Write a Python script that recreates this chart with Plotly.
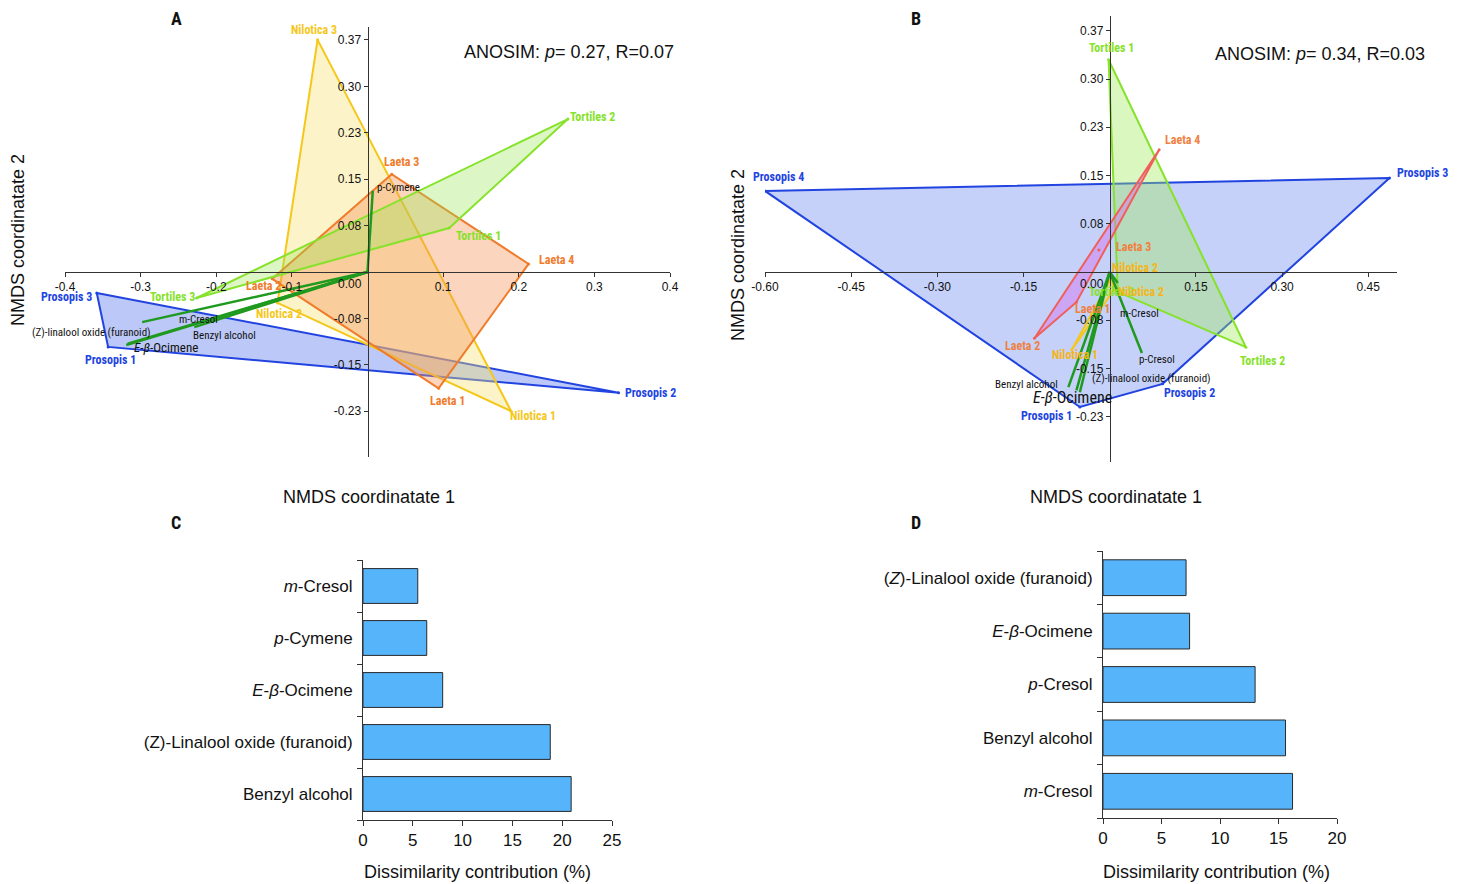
import plotly.graph_objects as go

W, H = 1463, 884

# ---------------- DATA ----------------
# Panel A (NMDS, ANOSIM p=0.27)
a_names = ["Prosopis 3", "Prosopis 1", "Prosopis 2",
           "Nilotica 3", "Nilotica 1", "Nilotica 2",
           "Laeta 3", "Laeta 4", "Laeta 1", "Laeta 2",
           "Tortiles 2", "Tortiles 1", "Tortiles 3"]
a_group = ["Prosopis"] * 3 + ["Nilotica"] * 3 + ["Laeta"] * 4 + ["Tortiles"] * 3
a_x = [-0.358, -0.343, 0.332, -0.066, 0.190, -0.119, 0.032, 0.213, 0.094, -0.126, 0.265, 0.108, -0.226]
a_y = [-0.034, -0.121, -0.195, 0.375, -0.225, -0.050, 0.158, 0.013, -0.188, -0.011, 0.247, 0.071, -0.042]

a_vec_names = ["p-Cymene", "m-Cresol", "Benzyl alcohol", "(Z)-linalool oxide (furanoid)", "<i>E</i>-<i>β</i>-Ocimene"]
a_vec_x = [0.007, -0.298, -0.229, -0.317, -0.319]
a_vec_y = [0.131, -0.081, -0.089, -0.116, -0.118]

# Panel B (NMDS, ANOSIM p=0.34)
b_names = ["Prosopis 4", "Prosopis 3", "Prosopis 2", "Prosopis 1",
           "Tortiles 1", "Tortiles 2", "Tortiles 3",
           "Laeta 4", "Laeta 1", "Laeta 2", "Laeta 3",
           "Nilotica 1", "Nilotica 2", "Nilotica 2"]
b_group = ["Prosopis"] * 4 + ["Tortiles"] * 3 + ["Laeta"] * 4 + ["Nilotica"] * 3
b_x = [-0.600, 0.487, 0.092, -0.052, -0.002, 0.237, 0.014, 0.086, -0.058, -0.131, -0.019, -0.066, 0.003, 0.007]
b_y = [0.126, 0.146, -0.174, -0.210, 0.330, -0.117, -0.031, 0.190, -0.047, -0.103, 0.034, -0.121, -0.009, -0.028]

b_vec_names = ["m-Cresol", "p-Cresol", "Benzyl alcohol", "<i>E</i>-<i>β</i>-Ocimene", "(Z)-linalool oxide (furanoid)"]
b_vec_x = [0.014, 0.056, -0.072, -0.058, -0.052]
b_vec_y = [-0.017, -0.126, -0.179, -0.184, -0.187]

# Panel C / D (SIMPER contributions)
c_cats = ["Benzyl alcohol", "(Z)-Linalool oxide (furanoid)", "E-β-Ocimene", "p-Cymene", "m-Cresol"]
c_text = ["Benzyl alcohol", "(Z)-Linalool oxide (furanoid)", "<i>E</i>-<i>β</i>-Ocimene", "<i>p</i>-Cymene", "<i>m</i>-Cresol"]
c_vals = [20.9, 18.8, 8.0, 6.4, 5.5]

d_cats = ["m-Cresol", "Benzyl alcohol", "p-Cresol", "E-β-Ocimene", "(Z)-Linalool oxide (furanoid)"]
d_text = ["<i>m</i>-Cresol", "Benzyl alcohol", "<i>p</i>-Cresol", "<i>E</i>-<i>β</i>-Ocimene", "(<i>Z</i>)-Linalool oxide (furanoid)"]
d_vals = [16.2, 15.6, 13.0, 7.4, 7.1]

nmds_ticks_y = [0.375, 0.3, 0.225, 0.15, 0.075, -0.075, -0.15, -0.225, -0.3]
nmds_ticktext_y = ["0.37", "0.30", "0.23", "0.15", "0.08", "-0.08", "-0.15", "-0.23", "-0.30"]
a_ticks_x = [-0.4, -0.3, -0.2, -0.1, 0.1, 0.2, 0.3, 0.4]
a_ticktext_x = ["-0.4", "-0.3", "-0.2", "-0.1", "0.1", "0.2", "0.3", "0.4"]
b_ticks_x = [-0.6, -0.45, -0.3, -0.15, 0.15, 0.3, 0.45]
b_ticktext_x = ["-0.60", "-0.45", "-0.30", "-0.15", "0.15", "0.30", "0.45"]

# ---------------- STYLE ----------------
SANS = "Liberation Sans, Arial, Helvetica, sans-serif"
NARROW = "Liberation Sans Narrow, Arial Narrow, Roboto Condensed, Liberation Sans, sans-serif"
BLUE_BAR = "#55b4fa"

a_style = {
    "Prosopis": dict(line="#2144e0", fill="rgba(95,125,235,0.42)", text="#2144e0"),
    "Nilotica": dict(line="#f5c71a", fill="rgba(248,225,110,0.38)", text="#f5c71a"),
    "Laeta": dict(line="#ef7b2b", fill="rgba(245,150,90,0.40)", text="#ef7b2b"),
    "Tortiles": dict(line="#86e22a", fill="rgba(150,230,80,0.33)", text="#86e22a"),
}
b_style = {
    "Prosopis": dict(line="#2144e0", fill="rgba(110,140,240,0.40)", text="#2144e0"),
    "Tortiles": dict(line="#86e22a", fill="rgba(160,235,90,0.38)", text="#86e22a"),
    "Laeta": dict(line="#f0605a", fill="rgba(215,110,240,0.45)", text="#f08040"),
    "Nilotica": dict(line="#f5c71a", fill="rgba(248,225,110,0.45)", text="#f5b51a"),
}
VEC = "#1f9a1f"

# label offsets in pixels (styling)
a_lbl_shift = {
    "Prosopis 3": (-30, -4), "Prosopis 1": (2, -13), "Prosopis 2": (32, 0),
    "Nilotica 3": (-4, 10), "Nilotica 1": (22, -5), "Nilotica 2": (1, -11),
    "Laeta 3": (10, 12), "Laeta 4": (28, 4), "Laeta 1": (9, -13), "Laeta 2": (-9, -7),
    "Tortiles 2": (25, 2), "Tortiles 1": (29, -8), "Tortiles 3": (-24, 1),
}
b_lbl_shift = [(13, 14), (33, 5), (27, -9), (-33, -9),
               (3, 12), (17, -14), (-6, 0),
               (23, 10), (16, -7), (-12, -8), (35, 3),
               (3, -5), (24, 10), (27, -2)]
a_vec_shift = [(2, 3, "left"), (56, 3, "center"), (30, -8, "center"), (-36, 11, "center"), (40, -2, "center")]
b_vec_shift = [(0, -31, "left"), (15, -7, "center"), (-42, 3, "center"), (-4, -7, "center"), (72, 14, "center")]


def px(xp):
    return xp / W


def py(yp):
    return 1 - yp / H


def hull(pts):
    pts = sorted(set(pts))
    if len(pts) <= 2:
        return pts

    def cross(o, a, b):
        return (a[0] - o[0]) * (b[1] - o[1]) - (a[1] - o[1]) * (b[0] - o[0])
    lower, upper = [], []
    for p in pts:
        while len(lower) >= 2 and cross(lower[-2], lower[-1], p) <= 0:
            lower.pop()
        lower.append(p)
    for p in reversed(pts):
        while len(upper) >= 2 and cross(upper[-2], upper[-1], p) <= 0:
            upper.pop()
        upper.append(p)
    return lower[:-1] + upper[:-1]


fig = go.Figure()
ann = []


def nmds_panel(xs, ys, groups, names, styles, order, vnames, vx, vy, xa, ya, lbl_shifts, vshifts, vfont):
    for g in order:
        pts = [(x, y) for x, y, gg in zip(xs, ys, groups) if gg == g]
        h = hull(pts)
        hx = [p[0] for p in h] + [h[0][0]]
        hy = [p[1] for p in h] + [h[0][1]]
        st = styles[g]
        fig.add_trace(go.Scatter(x=hx, y=hy, mode="lines", fill="toself", fillcolor=st["fill"],
                                 line=dict(color=st["line"], width=2), xaxis=xa, yaxis=ya,
                                 showlegend=False, hoverinfo="skip"))
        gx = [x for x, gg in zip(xs, groups) if gg == g]
        gy = [y for y, gg in zip(ys, groups) if gg == g]
        fig.add_trace(go.Scatter(x=gx, y=gy, mode="markers", marker=dict(size=3, color=st["line"]),
                                 xaxis=xa, yaxis=ya, showlegend=False))
    for n, x, y in zip(vnames, vx, vy):
        fig.add_trace(go.Scatter(x=[0, x], y=[0, y], mode="lines", line=dict(color=VEC, width=2.5),
                                 xaxis=xa, yaxis=ya, showlegend=False, hoverinfo="skip"))
    for i, (n, x, y, g) in enumerate(zip(names, xs, ys, groups)):
        sh = lbl_shifts[n] if isinstance(lbl_shifts, dict) else lbl_shifts[i]
        ann.append(dict(x=x, y=y, xref=xa, yref=ya, text=n, showarrow=False,
                        xshift=sh[0], yshift=sh[1],
                        font=dict(family=NARROW, size=12, color=styles[g]["text"], weight="bold")))
    for (n, x, y), sh in zip(zip(vnames, vx, vy), vshifts):
        size = vfont if "Ocimene" in n else 11
        ann.append(dict(x=x, y=y, xref=xa, yref=ya, text=n, showarrow=False,
                        xshift=sh[0], yshift=sh[1], xanchor=sh[2],
                        font=dict(family=NARROW, size=size, color="#111")))


nmds_panel(a_x, a_y, a_group, a_names, a_style, ["Prosopis", "Nilotica", "Laeta", "Tortiles"],
           a_vec_names, a_vec_x, a_vec_y, "x", "y", a_lbl_shift, a_vec_shift, 13)
nmds_panel(b_x, b_y, b_group, b_names, b_style, ["Prosopis", "Tortiles", "Laeta", "Nilotica"],
           b_vec_names, b_vec_x, b_vec_y, "x2", "y2", b_lbl_shift, b_vec_shift, 16)

fig.add_trace(go.Bar(x=c_vals, y=c_cats, orientation="h", width=0.67,
                     marker=dict(color=BLUE_BAR, line=dict(color="#2a2a2a", width=1)),
                     xaxis="x3", yaxis="y3", showlegend=False))
fig.add_trace(go.Bar(x=d_vals, y=d_cats, orientation="h", width=0.67,
                     marker=dict(color=BLUE_BAR, line=dict(color="#2a2a2a", width=1)),
                     xaxis="x4", yaxis="y4", showlegend=False))

# ---------------- AXES ----------------
a_xr, a_yr = [-0.4, 0.4], [-0.2989, 0.3958]
b_xr, b_yr = [-0.6, 0.5], [-0.2955, 0.398]
a_xd, a_yd = [px(65), px(670)], [py(457), py(27)]
b_xd, b_yd = [px(765), px(1397)], [py(462), py(16)]


def zero_pos(dom, rng):
    return dom[0] + (0 - rng[0]) / (rng[1] - rng[0]) * (dom[1] - dom[0])


axfont = dict(family=SANS, size=12, color="#111")
common = dict(showgrid=False, zeroline=False, showline=True, linecolor="#333", linewidth=1,
              ticks="outside", ticklen=4, tickcolor="#333", tickfont=axfont, fixedrange=True,
              automargin=False)

fig.update_layout(
    xaxis=dict(domain=a_xd, range=a_xr, anchor="free", position=zero_pos(a_yd, a_yr),
               tickmode="array", tickvals=a_ticks_x, ticktext=a_ticktext_x, **common),
    yaxis=dict(domain=a_yd, range=a_yr, anchor="free", position=zero_pos(a_xd, a_xr),
               tickmode="array", tickvals=nmds_ticks_y, ticktext=nmds_ticktext_y, **common),
    xaxis2=dict(domain=b_xd, range=b_xr, anchor="free", position=zero_pos(b_yd, b_yr),
                tickmode="array", tickvals=b_ticks_x, ticktext=b_ticktext_x, **common),
    yaxis2=dict(domain=b_yd, range=b_yr, anchor="free", position=zero_pos(b_xd, b_xr),
                tickmode="array", tickvals=nmds_ticks_y, ticktext=nmds_ticktext_y, **common),
)

barfont = dict(family=SANS, size=17, color="#111")
barcommon = dict(showgrid=False, zeroline=False, showline=True, linecolor="#333", linewidth=1,
                 ticks="outside", ticklen=5, tickcolor="#333", tickfont=barfont, fixedrange=True,
                 automargin=False)
fig.update_layout(
    xaxis3=dict(domain=[px(363), px(612)], range=[0, 25], dtick=5, anchor="y3", **barcommon),
    yaxis3=dict(domain=[py(820), py(560)], anchor="x3", type="category", categoryorder="array",
                categoryarray=c_cats, tickmode="array", tickvals=c_cats, ticktext=c_text,
                tickson="boundaries", range=[-0.5, 4.5], ticklabelstandoff=6, **barcommon),
    xaxis4=dict(domain=[px(1103), px(1337)], range=[0, 20], dtick=5, anchor="y4", **barcommon),
    yaxis4=dict(domain=[py(818), py(551)], anchor="x4", type="category", categoryorder="array",
                categoryarray=d_cats, tickmode="array", tickvals=d_cats, ticktext=d_text,
                tickson="boundaries", range=[-0.5, 4.5], ticklabelstandoff=6, **barcommon),
)

# zero labels for NMDS y axes
ann.append(dict(x=0, y=0, xref="x", yref="y", text="0.00", showarrow=False, xanchor="right",
                yanchor="top", xshift=-4, yshift=-3, font=axfont))
ann.append(dict(x=0, y=0, xref="x2", yref="y2", text="0.00", showarrow=False, xanchor="right",
                yanchor="top", xshift=-4, yshift=-3, font=axfont))

titlefont = dict(family=SANS, size=18, color="#111")
for txt, x, y, ang in [("NMDS coordinatate 1", 369, 497, 0), ("NMDS coordinatate 1", 1116, 497, 0),
                       ("NMDS coordinatate 2", 18, 240, -90), ("NMDS coordinatate 2", 738, 255, -90),
                       ("Dissimilarity contribution (%)", 477, 872, 0),
                       ("Dissimilarity contribution (%)", 1216, 872, 0),
                       ("ANOSIM: <i>p</i>= 0.27, R=0.07", 569, 52, 0),
                       ("ANOSIM: <i>p</i>= 0.34, R=0.03", 1320, 54, 0)]:
    ann.append(dict(x=px(x), y=py(y), xref="paper", yref="paper", text=txt, showarrow=False,
                    textangle=ang, xanchor="center", yanchor="middle", font=titlefont))
for txt, x, y in [("A", 176, 18), ("B", 916, 18), ("C", 176, 522), ("D", 916, 522)]:
    ann.append(dict(x=px(x), y=py(y), xref="paper", yref="paper", text=txt, showarrow=False,
                    xanchor="center", yanchor="middle",
                    font=dict(family=NARROW, size=18, color="#111", weight="bold")))

fig.update_layout(width=W, height=H, margin=dict(l=0, r=0, t=0, b=0, autoexpand=False),
                  paper_bgcolor="white", plot_bgcolor="rgba(0,0,0,0)",
                  annotations=ann, showlegend=False, bargap=0.33)

fig.write_html("out.html")
